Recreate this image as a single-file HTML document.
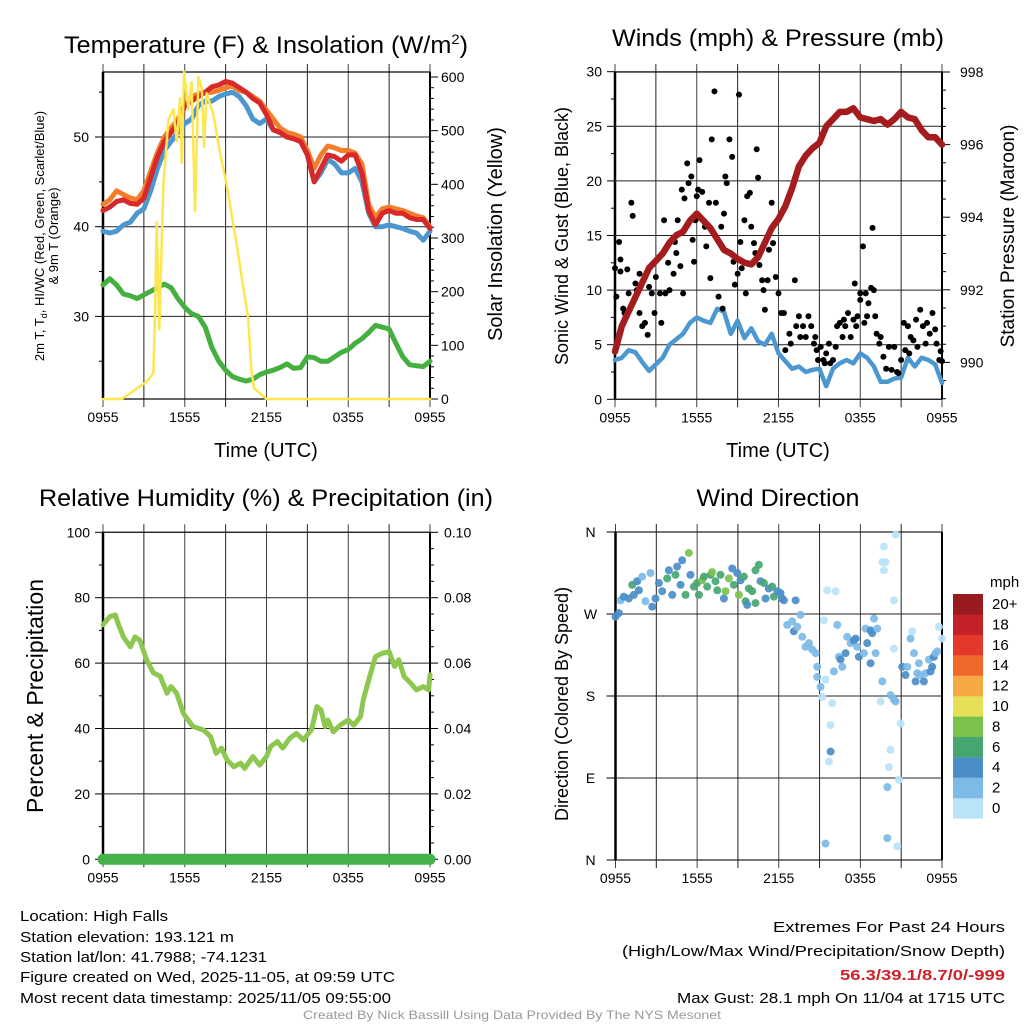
<!DOCTYPE html>
<html><head><meta charset="utf-8"><title>High Falls Meteogram</title>
<style>
html,body{margin:0;padding:0;background:#fff;}
svg{display:block;font-family:"Liberation Sans",Arial,sans-serif;}
</style></head>
<body>
<svg id="chart" xmlns="http://www.w3.org/2000/svg" width="1024" height="1024" viewBox="0 0 1024 1024">
<rect x="0" y="0" width="1024" height="1024" fill="#fff"/>
<!-- Titles -->
<text x="266" y="53" font-size="24" text-anchor="middle" textLength="404" lengthAdjust="spacingAndGlyphs">Temperature (F) &amp; Insolation (W/m<tspan dy="-9" font-size="14">2</tspan><tspan dy="9">)</tspan></text>
<text x="778" y="46" font-size="24" text-anchor="middle" textLength="332" lengthAdjust="spacingAndGlyphs">Winds (mph) &amp; Pressure (mb)</text>
<text x="266" y="506" font-size="24" text-anchor="middle" textLength="454" lengthAdjust="spacingAndGlyphs">Relative Humidity (%) &amp; Precipitation (in)</text>
<text x="778" y="506" font-size="24" text-anchor="middle" textLength="163" lengthAdjust="spacingAndGlyphs">Wind Direction</text>
<!-- Axis titles -->
<text x="266" y="457" font-size="20" text-anchor="middle">Time (UTC)</text>
<text x="778" y="457" font-size="20" text-anchor="middle">Time (UTC)</text>
<text transform="translate(44,236) rotate(-90)" font-size="13" text-anchor="middle">2m T, T<tspan dy="3" font-size="9">d</tspan><tspan dy="-3">, HI/WC (Red, Green, Scarlet/Blue)</tspan></text>
<text transform="translate(58,236) rotate(-90)" font-size="13" text-anchor="middle">&amp; 9m T (Orange)</text>
<text transform="translate(502,234) rotate(-90)" font-size="20" text-anchor="middle">Solar Insolation (Yellow)</text>
<text transform="translate(568,236) rotate(-90)" font-size="18" text-anchor="middle">Sonic Wind &amp; Gust (Blue, Black)</text>
<text transform="translate(1014,236) rotate(-90)" font-size="19" text-anchor="middle">Station Pressure (Maroon)</text>
<text transform="translate(43,696) rotate(-90)" font-size="23" text-anchor="middle">Percent &amp; Precipitation</text>
<text transform="translate(568,704) rotate(-90)" font-size="18" text-anchor="middle">Direction (Colored By Speed)</text>
<!-- Footer -->
<g font-size="15" fill="#000">
<text x="20" y="921" textLength="148" lengthAdjust="spacingAndGlyphs">Location: High Falls</text>
<text x="20" y="942" textLength="214" lengthAdjust="spacingAndGlyphs">Station elevation: 193.121 m</text>
<text x="20" y="962" textLength="247" lengthAdjust="spacingAndGlyphs">Station lat/lon: 41.7988; -74.1231</text>
<text x="20" y="982" textLength="375" lengthAdjust="spacingAndGlyphs">Figure created on Wed, 2025-11-05, at 09:59 UTC</text>
<text x="20" y="1003" textLength="371" lengthAdjust="spacingAndGlyphs">Most recent data timestamp: 2025/11/05 09:55:00</text>
<text x="1005" y="932" text-anchor="end" textLength="232" lengthAdjust="spacingAndGlyphs">Extremes For Past 24 Hours</text>
<text x="1005" y="956" text-anchor="end" textLength="383" lengthAdjust="spacingAndGlyphs">(High/Low/Max Wind/Precipitation/Snow Depth)</text>
<text x="1005" y="980" text-anchor="end" font-weight="bold" fill="#cc2229" textLength="165" lengthAdjust="spacingAndGlyphs">56.3/39.1/8.7/0/-999</text>
<text x="1005" y="1003" text-anchor="end" textLength="328" lengthAdjust="spacingAndGlyphs">Max Gust: 28.1 mph On 11/04 at 1715 UTC</text>
</g>
<text x="512" y="1019" font-size="12" fill="#999" text-anchor="middle" textLength="418" lengthAdjust="spacingAndGlyphs">Created By Nick Bassill Using Data Provided By The NYS Mesonet</text>
<text x="990" y="587" font-size="15">mph</text>
</svg>
<script>
// ---------- DATA ----------
// Temperature panel: half-hour steps from 0955 (49 values)
const tempRed = [41.8,42.2,42.8,43,42.6,42.5,43.2,45.5,47.8,49.5,50.5,51.5,53.5,54,54.5,55,55.6,55.8,56.2,56,55.5,55,54.3,53.8,52.5,50.8,50.5,50,49.8,49.5,48,45,46.5,48,47.8,47.3,48,48,46,41.8,40.2,41.5,41.8,41.5,41.5,41,40.8,40.8,39.8];
const tempOrange = [42.5,43,44,43.6,43.2,43,44,46.2,48.3,50,51,52,53.5,54.5,54.8,55,55,55.2,55.5,55.7,55.2,55,54.5,54,53,52,51,50.5,50.3,50,48.5,46.5,48,49,48.8,48.5,48.5,48.2,47,42.5,41,42,42.2,42,41.8,41.5,41.2,41,40];
const tempBlue = [39.5,39.3,39.5,40.2,40.5,41.5,42,44,46.5,48.5,49.5,50.5,51.5,52,53.5,54,54,54.5,54.8,55,54.5,53.5,52,51.5,52,50.8,50.5,50,49.8,49.5,48,45,46,47.5,47,46,46,46.5,45,41.5,40,40,40.2,40,39.8,39.5,39.3,38.5,39.5];
const dewGreen = [33.5,34.2,33.5,32.5,32.3,32,32.4,32.8,33.2,33.6,33.2,32,31,30.3,30,28.8,26.5,25,24,23.3,23,22.8,23,23.5,23.8,24,24.3,24.7,24.2,24.3,25.5,25.4,25,25,25.5,26,26.3,27,27.5,28.2,29,28.8,28.6,27,25.5,24.6,24.5,24.4,25];
const solarH = [0,1.37,3.2,3.69,3.82,3.94,4.13,4.43,4.8,5.17,5.41,5.66,5.78,5.95,6.27,6.5,6.76,7.0,7.25,7.42,7.6,8.1,8.58,9.07,9.8,10.66,10.9,11.1,12.0,24];
const solarV = [0,0,32,48,150,330,130,400,520,540,480,560,440,610,540,590,350,600,580,470,570,530,460,400,290,150,50,20,0,0];
const tempTicks = [30,40,50];
const solarTicks = [0,100,200,300,400,500,600];
const timeLabels = ["0955","1555","2155","0355","0955"];
// Wind panel: half-hour steps
const windSust = [3.6,3.8,4.5,4.3,3.4,2.6,3.2,3.8,5,5.5,6,7,7.5,7.2,7,8.3,8,6,7.2,5.6,6.5,5.3,5,6,4.2,3.5,2.8,3,2.5,2.7,2.8,1.2,2.8,3.3,3.6,3.3,4.2,3.8,3,1.6,1.6,1.9,2,3.8,3,3.8,3.6,3.2,1.5];
const pressure = [990.3,991,991.4,991.8,992.2,992.6,992.8,993,993.3,993.5,993.6,993.9,994.1,993.9,993.7,993.4,993.1,993,992.85,992.75,992.7,992.9,993.3,993.7,993.95,994.3,994.8,995.4,995.7,995.9,996.05,996.5,996.7,996.9,996.9,997,996.75,996.7,996.65,996.7,996.55,996.7,996.9,996.75,996.7,996.4,996.2,996.2,996.0];
const gustH = [0,0.1,0.3,0.4,0.4,0.6,0.7,0.9,1,1.2,1.3,1.5,1.6,1.8,1.8,2,2.2,2.4,2.5,2.7,2.9,3,3.3,3.4,3.6,3.7,3.9,4,4.3,4.4,4.5,4.6,4.8,4.9,5,5.1,5.3,5.4,5.6,5.7,5.8,5.9,6,6.1,6.2,6.4,6.6,6.7,6.9,7,7.1,7.3,7.4,7.6,7.8,7.9,8,8.1,8.2,8.4,8.6,8.7,8.8,9,9.1,9.2,9.3,9.5,9.6,9.7,9.9,10,10.2,10.3,10.4,10.5,10.6,10.8,10.9,11,11.2,11.3,11.5,11.6,11.8,12,12.2,12.4,12.5,12.8,12.9,13.2,13.3,13.5,13.6,13.8,14,14.2,14.4,14.6,14.7,14.8,14.9,15.1,15.3,15.4,15.5,15.7,15.8,16,16.2,16.3,16.5,16.7,16.8,16.9,17.1,17.3,17.5,17.6,17.7,17.8,18,18,18.2,18.3,18.4,18.5,18.6,18.8,18.9,19,19.1,19.2,19.4,19.5,19.7,19.9,20.1,20.3,20.5,20.7,20.8,21,21.2,21.3,21.5,21.6,21.7,21.9,22.1,22.2,22.4,22.6,22.8,22.9,23.1,23.3,23.5,23.6,23.8,23.9,24];
const gustV = [12,9.4,14.4,12.8,11.7,8.3,7.9,11.9,9.7,18,16.8,10.6,10,7.9,11.5,6.7,7,5.9,10.3,9.7,7.9,11.2,9.7,7,16.4,9.7,12.5,10,11.5,14.4,13.4,16.4,12.2,19.2,9.7,18.4,21.6,19.8,20.4,14.6,12.6,16.4,18.6,19.2,21.9,19,15.8,14,18,11.1,23.8,28.2,18,9.4,15.8,8.3,17,20.4,19.8,23.8,22.2,12.6,10.5,11.5,27.9,14.4,12,16.4,9.7,18.6,18.9,15.8,14.3,13.4,22.9,20.3,12.3,10.9,10,8.2,10.9,13.7,18,14.3,11.2,9.7,7.9,7.9,4.5,6,5.1,10.9,6.7,7.6,5.7,6.7,5.7,7.6,6.7,5.1,5.7,4.5,3.6,4.8,3.6,3.3,4.2,5.1,3.3,3.6,4.8,6.7,7,5.7,7.3,6.7,7.9,5.7,7.3,10.6,6.7,7.6,9.7,9.1,14,7,9.7,7.6,8.8,10.2,15.7,10,7.6,6,5.1,5.7,3.9,2.8,4.8,2.7,4.8,2.5,2.4,3.6,7,4.5,6.7,4.2,5.7,5.4,7.3,4.8,8.2,6.7,5.1,7,6,7.9,6.4,5.1,3.6,4.4,3.5];
const windTicks = [0,5,10,15,20,25,30];
const pressTicks = [990,992,994,996,998];
// Humidity panel
const rhH = [0,0.5,0.9,1.1,1.5,2,2.35,2.7,3.2,3.7,4.2,4.7,5,5.4,5.9,6.6,7.4,7.9,8.3,8.7,9.1,9.6,10.1,10.4,11,11.5,12,12.3,12.8,13.2,13.7,14.2,14.7,15.3,15.7,16,16.3,16.5,16.9,17.4,18,18.4,18.9,19.1,19.5,20,20.5,21,21.4,21.7,22.1,22.6,23,23.5,23.9,24];
const rhV = [71.7,74.2,74.7,72.2,68,65,68,67,61,57,56,50.8,52.8,50.8,44.6,40.6,39.5,37.5,32.4,34,30.4,28.3,29.4,27.8,31.4,28.8,31.4,34.5,36,34,37,38.5,36.5,39.6,46.7,45.7,40.6,42.6,39,41,42.6,41,43.6,48.7,54.8,62,63,63.5,59,61,55.9,53.8,51.8,52.8,51.8,56.4];
const precipH = [0,24];
const precipV = [0,0];
const rhTicks = [0,20,40,60,80,100];
const precipTicks = ["0.00","0.02","0.04","0.06","0.08","0.10"];
// Wind direction panel
const dirH = [0,0.25,0.37,0.61,0.98,1.23,1.35,1.59,1.72,1.96,2.2,2.57,2.7,2.94,3.19,3.43,3.8,3.92,4.17,4.41,4.53,4.78,4.9,5.15,5.39,5.51,5.76,6,6.13,6.37,6.5,6.74,6.99,7.1,7.35,7.48,7.72,7.97,8.09,8.33,8.58,8.7,8.95,9.07,9.19,9.44,9.56,9.68,9.8,10.05,10.29,10.29,10.54,10.66,10.91,11.03,11.27,11.52,11.64,11.89,12.13,12.25,12.38,13.24,12.62,12.99,13.11,13.36,13.6,13.73,13.97,14.22,14.46,14.71,14.83,14.83,15.07,15.2,15.32,15.44,15.56,15.93,15.81,15.81,15.69,15.44,16.05,16.18,16.3,16.42,16.54,16.67,16.91,17.03,17.28,17.52,17.65,17.77,17.89,18.26,18.38,18.5,18.75,18.87,18.75,19.12,19,19.24,19.61,19.49,19.73,19.61,19.85,19.73,20.22,20.47,20.47,20.47,20.59,20.59,20.22,20.1,19.98,19.98,20.71,20.96,20.83,21.08,21.32,21.45,21.69,21.81,21.94,22.06,22.18,22.3,22.43,22.67,22.79,23.04,23.16,23.28,23.4,23.53,23.65,23.77,24];
const dirDeg = [267,271,285,289,287,302,291,306,296,311,284,315,278,287,304,295,309,318,291,313,322,302,329,291,337,313,300,304,291,307,311,300,313,316,306,296,313,287,295,309,320,302,315,291,307,311,284,280,298,295,282,318,324,306,304,287,298,300,289,295,293,287,285,285,258,262,251,256,269,245,234,238,231,227,212,201,190,179,263,198,296,172,148,119,108,18,207,295,258,223,220,212,227,245,238,241,243,234,223,227,254,238,252,249,216,227,265,254,196,174,344,327,327,318,181,232,285,176,357,174,121,102,80,24,15,150,88,212,203,212,243,251,227,196,205,216,203,196,205,220,207,212,223,227,229,256,243];
const dirSpd = [4,4,2,4,4,6,4,4,4,2,2,2,4,4,4,4,6,4,4,6,4,4,4,6,8,4,6,6,6,8,6,6,6,8,6,6,6,4,8,8,4,6,4,8,4,6,6,4,6,6,6,6,6,4,6,4,4,6,6,4,4,4,4,4,2,2,4,2,2,2,2,2,2,2,2,2,2,0,0,0,0,0,0,4,0,2,2,0,2,2,4,2,4,2,2,4,4,2,4,2,2,4,4,4,4,2,2,2,2,0,0,0,0,0,2,0,0,2,0,2,0,0,2,2,0,0,0,4,4,2,2,0,2,4,2,2,2,4,2,2,4,4,4,2,2,0,0];
const dirLabels = ["N","E","S","W","N"];
const dirTicks = [0,90,180,270,360];
const speedBins = ["0","2","4","6","8","10","12","14","16","18","20+"];
const speedColors = ["#b8e3f8","#7dbae6","#4b8dc8","#46a670","#7bc24d","#e6e056","#f6a845","#f0672a","#e3382a","#c42128","#991b1f"];

// ---------- HELPERS ----------
const NS = "http://www.w3.org/2000/svg";
const svg = document.getElementById("chart");
function mk(tag, attrs, parent) {
  const e = document.createElementNS(NS, tag);
  for (const k in attrs) e.setAttribute(k, attrs[k]);
  (parent || svg).appendChild(e);
  return e;
}
const P1 = {x0:103, x1:430, y0:72, y1:399};
const P2 = {x0:615, x1:942, y0:72, y1:399.3};
const P3 = {x0:103, x1:430, y0:532.3, y1:859.3};
const P4 = {x0:615.5, x1:942, y0:532, y1:860};
function xOf(P, h) { return P.x0 + h / 24 * (P.x1 - P.x0); }
const yTemp = t => 137 - (t - 50) * 8.97;
const ySolar = v => 399 - v * 0.5367;
const yWind = w => 399.3 - w * 10.92;
const yPress = p => 72 + (998 - p) * 36.3;
const yRH = r => 859.3 - r * 3.27;
const yPrecip = p => 859.3 - p * 3270;
const yDir = d => 860 - d * 328 / 360;

function hLine(P, y, name) {
  const l = mk("line", {x1:P.x0, x2:P.x1, y1:y, y2:y, stroke:"#222", "stroke-width":1});
  
  
}
function tick(x1, y1, x2, y2, name) {
  const l = mk("line", {x1:x1, y1:y1, x2:x2, y2:y2, stroke:"#000", "stroke-width":1});
  
  
}
function label(x, y, txt, anchor, name, size) {
  const t = mk("text", {x:x, y:y, "font-size":size || 14, "text-anchor":anchor});
  t.textContent = txt;
  
  
}
function frame(P, pname, xlabels) {
  for (let i = 0; i <= 8; i++) {
    const x = xOf(P, i * 3);
    const g = mk("line", {x1:x, x2:x, y1:P.y0 - 8, y2:P.y1 + 8, stroke:(i % 2 ? "#222" : "#444"), "stroke-width":1});
    
    
    if (xlabels && i % 2 === 0) label(x, P.y1 + 23, timeLabels[i / 2], "middle", pname + "-x-tick-label");
  }
  const f = mk("rect", {x:P.x0, y:P.y0, width:P.x1 - P.x0, height:P.y1 - P.y0, fill:"none", stroke:"#000", "stroke-width":1.2});
  
  
  const la = mk("line", {x1:P.x0, x2:P.x0, y1:P.y0, y2:P.y1, stroke:"#000", "stroke-width":2.5});
  
  
  const ra = mk("line", {x1:P.x1, x2:P.x1, y1:P.y0, y2:P.y1, stroke:"#000", "stroke-width":2});
  
  
}
function pathFrom(xs, ys) {
  let d = "";
  for (let i = 0; i < xs.length; i++) d += (i ? "L" : "M") + xs[i].toFixed(1) + " " + ys[i].toFixed(1);
  return d;
}
function series(P, hs, vals, yf, color, w, name) {
  const p = mk("path", {d:pathFrom(hs.map(h => xOf(P, h)), vals.map(yf)), fill:"none", stroke:color, "stroke-width":w, "stroke-linejoin":"round", "stroke-linecap":"round"});
  
  
}
const half = n => Array.from({length:n}, (_, i) => i * 0.5);

// ---------- PANEL 1: temperature ----------
frame(P1, "temp", true);
tempTicks.forEach(t => {
  hLine(P1, yTemp(t), "temp-y-grid-line");
  tick(P1.x0 - 8, yTemp(t), P1.x0, yTemp(t), "temp-y-tick");
  label(P1.x0 - 14, yTemp(t) + 5, String(t), "end", "temp-y-tick-label");
});
[25, 35, 45, 55].forEach(t => tick(P1.x0 - 4, yTemp(t), P1.x0, yTemp(t), "temp-y-minor-tick"));
for (let v = 0; v <= 600; v += 20) tick(P1.x1, ySolar(v), P1.x1 + (v % 100 ? 4 : 8), ySolar(v), "solar-y-tick");
solarTicks.forEach(v => label(P1.x1 + 11, ySolar(v) + 5, String(v), "start", "solar-y-tick-label"));
series(P1, half(tempBlue.length), tempBlue, yTemp, "#4d97d1", 5, "hi-wc-line");
series(P1, half(tempOrange.length), tempOrange, yTemp, "#f47d2c", 5, "temp-9m-line");
series(P1, half(tempRed.length), tempRed, yTemp, "#d7282a", 5, "temp-2m-line");
series(P1, half(dewGreen.length), dewGreen, yTemp, "#45b040", 5, "dewpoint-line");
series(P1, solarH, solarV, ySolar, "#fde64f", 2.5, "solar-insolation-line");

// ---------- PANEL 2: winds ----------
frame(P2, "wind", true);
windTicks.forEach(w => {
  hLine(P2, yWind(w), "wind-y-grid-line");
  tick(P2.x0 - 8, yWind(w), P2.x0, yWind(w), "wind-y-tick");
  label(P2.x0 - 13, yWind(w) + 5, String(w), "end", "wind-y-tick-label");
});
for (let w = 2.5; w < 30; w += 5) tick(P2.x0 - 4, yWind(w), P2.x0, yWind(w), "wind-y-minor-tick");
for (let p = 989; p <= 998.01; p += 0.5) { if (yPress(p) <= P2.y1) tick(P2.x1, yPress(p), P2.x1 + (Math.abs(p % 2) < 0.01 ? 8 : 4), yPress(p), "pressure-y-tick"); }
pressTicks.forEach(p => label(P2.x1 + 18, yPress(p) + 5, String(p), "start", "pressure-y-tick-label"));
series(P2, half(windSust.length), windSust, yWind, "#4d97d1", 4.5, "sustained-wind-line");
gustH.forEach((h, i) => {
  const c = mk("circle", {cx:xOf(P2, h), cy:yWind(gustV[i]), r:3, fill:"#000"});
  
  
});
series(P2, half(pressure.length), pressure, yPress, "#a51c1f", 6.5, "pressure-line");

// ---------- PANEL 3: humidity ----------
frame(P3, "humidity", true);
rhTicks.forEach((r, i) => {
  hLine(P3, yRH(r), "humidity-y-grid-line");
  tick(P3.x0 - 8, yRH(r), P3.x0, yRH(r), "humidity-y-tick");
  label(P3.x0 - 13, yRH(r) + 5, String(r), "end", "humidity-y-tick-label");
  label(P3.x1 + 14, yRH(r) + 5, precipTicks[i], "start", "precip-y-tick-label");
});
for (let r = 10; r < 100; r += 20) tick(P3.x0 - 4, yRH(r), P3.x0, yRH(r), "humidity-y-minor-tick");
for (let r = 0; r <= 100; r += 5) tick(P3.x1, yRH(r), P3.x1 + (r % 20 ? 4 : 8), yRH(r), "precip-y-tick");
series(P3, rhH, rhV, yRH, "#8dc74f", 5, "relative-humidity-line");
series(P3, precipH, precipV, yPrecip, "#46b14a", 11, "precipitation-line");

// ---------- PANEL 4: wind direction ----------
frame(P4, "direction", true);
dirTicks.forEach((d, i) => {
  hLine(P4, yDir(d), "direction-y-grid-line");
  tick(P4.x0 - 9, yDir(d), P4.x0, yDir(d), "direction-y-tick");
  label(P4.x0 - 25, yDir(d) + 5, dirLabels[i], "middle", "direction-y-tick-label");
});
dirH.forEach((h, i) => {
  const idx = Math.min(10, Math.max(0, Math.round(dirSpd[i] / 2)));
  const c = mk("circle", {cx:xOf(P4, h), cy:yDir(dirDeg[i]), r:4, fill:speedColors[idx], "fill-opacity":0.92});
  
  
});
// colorbar
speedBins.forEach((b, i) => {
  const y = 594 + (10 - i) * 20.4;
  const r = mk("rect", {x:953, y:y, width:30, height:20.6, fill:speedColors[i]});
  
  
  label(992, y + 15, b, "start", "colorbar-label", 15);
});
</script>
</body></html>
